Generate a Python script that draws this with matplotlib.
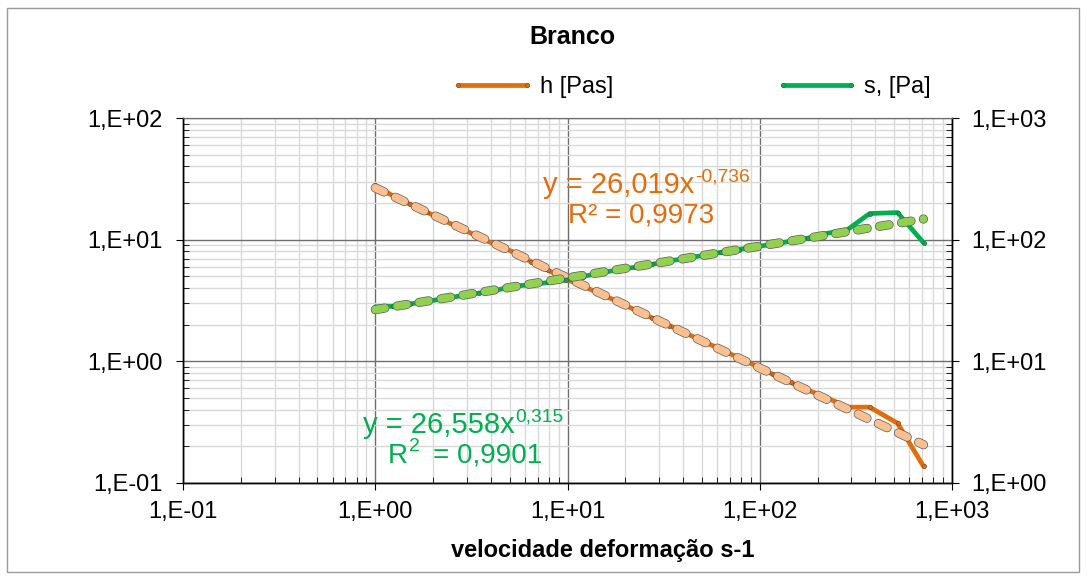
import numpy as np
import matplotlib

matplotlib.use("Agg")
import matplotlib.pyplot as plt
from matplotlib.patches import Rectangle
from matplotlib.ticker import FixedLocator, FixedFormatter, LogLocator, NullFormatter

plt.rcParams["font.family"] = ["Liberation Sans", "DejaVu Sans"]
plt.rcParams["lines.scale_dashes"] = False

# shear rate [1/s]
shear_rate = [1.00, 1.23, 1.51, 1.86, 2.29, 2.82, 3.47, 4.27, 5.25, 6.46, 7.94, 9.77,
              12.0, 14.8, 18.2, 22.4, 27.5, 33.9, 41.7, 51.3, 63.1, 77.6, 95.5, 117,
              145, 178, 219, 286, 373, 521, 711]
# viscosity h [Pas]
viscosity = [28.0, 23.0, 19.6, 16.8, 14.3, 12.3, 10.5, 9.0, 7.9, 6.6, 5.6, 4.75,
             4.15, 3.6, 3.1, 2.65, 2.28, 1.97, 1.69, 1.45, 1.25, 1.07, 0.92, 0.78,
             0.67, 0.58, 0.51, 0.42, 0.42, 0.31, 0.137]
# shear stress s [Pa]
stress = [28.0, 28.3, 29.6, 31.2, 32.7, 34.7, 36.4, 38.4, 41.5, 42.6, 44.5, 46.4,
          49.8, 53.3, 56.4, 59.4, 62.7, 66.8, 70.5, 74.4, 78.9, 83.0, 87.9, 91.3,
          97.2, 103, 112, 121, 164, 167, 94.5]

x_ticks = [0.1, 1, 10, 100, 1000]
x_tick_labels = ["1,E-01", "1,E+00", "1,E+01", "1,E+02", "1,E+03"]
left_ticks = [0.1, 1, 10, 100]
left_tick_labels = ["1,E-01", "1,E+00", "1,E+01", "1,E+02"]
right_ticks = [1, 10, 100, 1000]
right_tick_labels = ["1,E+00", "1,E+01", "1,E+02", "1,E+03"]

ORANGE = "#E46C0A"
ORANGE_LIGHT = "#FAC090"
GREEN = "#00B050"
GREEN_LIGHT = "#92D050"
OUTLINE = "#5a5a5a"
W, H = 1087, 578


def power_fit(x, y):
    slope, icpt = np.polyfit(np.log10(x), np.log10(y), 1)
    xs = np.array([min(x), max(x)])
    return xs, 10 ** icpt * xs ** slope


def trend(ax, x, y, color):
    xs, ys = power_fit(x, y)
    dash = (0, (7.0, 9.0))
    ax.plot(xs, ys, color=OUTLINE, lw=6.6, linestyle=dash, dash_capstyle="round", zorder=5)
    ax.plot(xs, ys, color=color, lw=5.6, linestyle=dash, dash_capstyle="round", zorder=6)


def eq_text(fig, x, y, main, sup, color, size=21):
    t = fig.text(x / W, 1 - y / H, main, ha="left", va="baseline", fontsize=size, color=color)
    bb = t.get_window_extent(renderer=fig.canvas.get_renderer())
    fig.text(bb.x1 / W + 1 / W, 1 - (y - 12) / H, sup, ha="left", va="baseline",
             fontsize=size * 0.66, color=color)


fig = plt.figure(figsize=(W / 100, H / 100), dpi=100)
fig.patches.append(Rectangle((7 / W, 1 - 572 / H), (1079 - 7) / W, (572 - 8) / H,
                             transform=fig.transFigure, fill=False, ec="#9a9a9a", lw=1))

ax = fig.add_axes([183 / W, 1 - 483 / H, (952 - 183) / W, (483 - 118) / H])
ax.set_xscale("log")
ax.set_yscale("log")
ax.set_xlim(0.1, 1000)
ax.set_ylim(0.1, 100)

ax.grid(True, which="minor", color="#d9d9d9", lw=1)
ax.grid(True, which="major", color="#6e6e6e", lw=1)
ax.set_axisbelow(True)

line_h, = ax.plot(shear_rate, viscosity, color=ORANGE, lw=3.4, marker="o", ms=3,
                  mfc=ORANGE, mec="#8a4a20", mew=0.5, solid_capstyle="round", zorder=3,
                  label="h [Pas]")
trend(ax, shear_rate, viscosity, ORANGE_LIGHT)

ax2 = ax.twinx()
ax2.set_yscale("log")
ax2.set_ylim(1, 1000)
line_s, = ax2.plot(shear_rate, stress, color=GREEN, lw=3.4, marker="o", ms=3,
                   mfc=GREEN, mec="#2f6a3f", mew=0.5, solid_capstyle="round", zorder=3,
                   label="s, [Pa]")
trend(ax2, shear_rate, stress, GREEN_LIGHT)

for a in (ax, ax2):
    for side in ("left", "right", "bottom"):
        a.spines[side].set_color("black")
        a.spines[side].set_linewidth(1)
    a.spines["top"].set_color("#6e6e6e")

ax.xaxis.set_major_locator(FixedLocator(x_ticks))
ax.xaxis.set_major_formatter(FixedFormatter(x_tick_labels))
ax.xaxis.set_minor_locator(LogLocator(base=10, subs=np.arange(2, 10)))
ax.xaxis.set_minor_formatter(NullFormatter())
ax.yaxis.set_major_locator(FixedLocator(left_ticks))
ax.yaxis.set_major_formatter(FixedFormatter(left_tick_labels))
ax.yaxis.set_minor_locator(LogLocator(base=10, subs=np.arange(2, 10)))
ax.yaxis.set_minor_formatter(NullFormatter())
ax2.yaxis.set_major_locator(FixedLocator(right_ticks))
ax2.yaxis.set_major_formatter(FixedFormatter(right_tick_labels))
ax2.yaxis.set_minor_locator(LogLocator(base=10, subs=np.arange(2, 10)))
ax2.yaxis.set_minor_formatter(NullFormatter())

ax.tick_params(which="major", direction="out", length=5, labelsize=17, pad=8)
ax.tick_params(which="minor", direction="in", length=4)
ax.tick_params(axis="y", which="major", pad=10)
ax2.tick_params(which="major", direction="out", length=5, labelsize=17, pad=9)
ax2.tick_params(which="minor", direction="in", length=4)

ax.legend(handles=[line_h, line_s], loc="center", bbox_to_anchor=(691 / W, 1 - 87 / H),
          bbox_transform=fig.transFigure, ncol=2, frameon=False, fontsize=17,
          handlelength=3.5, handletextpad=0.25, columnspacing=6.9, numpoints=2)

fig.text(572 / W, 1 - 37 / H, "Branco", ha="center", va="center", fontsize=18, fontweight="bold")
fig.text(603 / W, 1 - 550 / H, "velocidade deformação s-1", ha="center", va="center",
         fontsize=17, fontweight="bold")

eq_text(fig, 543, 193, "y = 26,019x", "-0,736", ORANGE)
fig.text(641 / W, 1 - 223 / H, "R² = 0,9973", ha="center", va="baseline", fontsize=20,
         color=ORANGE)
eq_text(fig, 363, 433, "y = 26,558x", "0,315", GREEN)
fig.text(388 / W, 1 - 463 / H, "R", ha="left", va="baseline", fontsize=20, color=GREEN)
fig.text(409 / W, 1 - 451 / H, "2", ha="left", va="baseline", fontsize=14, color=GREEN)
fig.text(542 / W, 1 - 463 / H, "= 0,9901", ha="right", va="baseline", fontsize=20, color=GREEN)

fig.savefig("out.png", dpi=100)
